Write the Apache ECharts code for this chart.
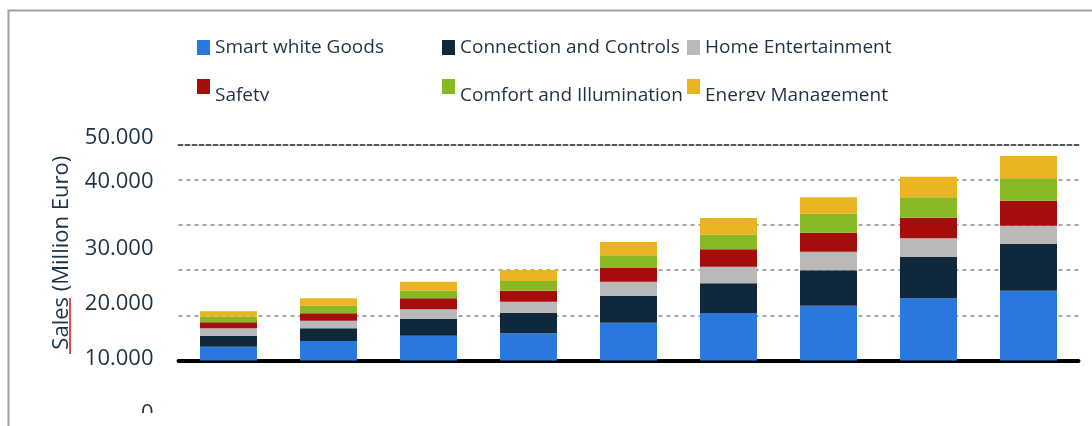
<!DOCTYPE html>
<html>
<head>
<meta charset="utf-8">
<script src="https://cdn.jsdelivr.net/npm/echarts@6/dist/echarts.min.js"></script>
<style>
  html, body { margin: 0; padding: 0; background: #fff; }
  #main { width: 1092px; height: 426px; }
</style>
</head>
<body>
<div id="main"></div>
<script>
// bar groups (no labels shown on the x axis in the source)
var categories = ['1', '2', '3', '4', '5', '6', '7', '8', '9']
var seriesNames = ['Smart white Goods', 'Connection and Controls', 'Home Entertainment',
  'Safety', 'Comfort and Illumination', 'Energy Management']
var smartWhiteGoods = [3060, 4320, 5500, 6030, 8380, 10530, 12140, 13780, 15470]
var connectionControls = [2440, 2810, 3700, 4570, 5920, 6580, 7840, 9150, 10350]
var homeEntertainment = [1640, 1680, 2150, 2440, 3170, 3680, 4120, 4140, 4060]
var safety = [1330, 1640, 2440, 2440, 3040, 3860, 4210, 4570, 5540]
var comfortIllumination = [1240, 1680, 1680, 2150, 2810, 3240, 4210, 4520, 4960]
var energyManagement = [1200, 1640, 1990, 2440, 2950, 3700, 3630, 4570, 4940]
var yTickLabels = ['0', '10.000', '20.000', '30.000', '40.000', '50.000']

var colors = ['#2a77dd', '#10283c', '#b9b9b9', '#a50c0c', '#88b824', '#eab422']
var seriesData = [smartWhiteGoods, connectionControls, homeEntertainment,
  safety, comfortIllumination, energyManagement]

var font = 'Open Sans'
var textColor = '#1e3246'

var chart = echarts.init(document.getElementById('main'))

chart.setOption({
  animation: false,
  grid: [
    { left: 178.5, right: 13.5, top: 145, bottom: 65.5 },
    { left: 178.5, right: 13.5, top: 138, bottom: 12 }
  ],
  // one legend per item so the columns line up like the source
  legend: seriesNames.map(function(name, i) {
    return {
      data: [name],
      left: 197 + (i % 3) * 245,
      top: i < 3 ? 38 : 79,
      padding: 0,
      icon: 'rect',
      itemWidth: 13,
      itemHeight: 15,
      formatter: i < 3 ? '{name}' : '{low|{name}}',
      textStyle: {
        fontFamily: font,
        fontSize: 19,
        color: textColor,
        rich: {
          low: { fontFamily: font, fontSize: 19, color: textColor, padding: [18, 0, 0, 0] }
        }
      }
    }
  }),
  xAxis: [
    {
      type: 'category',
      gridIndex: 0,
      data: categories,
      axisLine: { lineStyle: { color: '#000', width: 4 } },
      axisTick: { show: false },
      axisLabel: { show: false }
    },
    {
      type: 'category',
      gridIndex: 0,
      position: 'top',
      data: categories,
      axisLine: { lineStyle: { color: '#555', width: 2, type: [4, 3] } },
      axisTick: { show: false },
      axisLabel: { show: false }
    },
    { type: 'category', gridIndex: 1, data: categories, show: false }
  ],
  yAxis: [
    {
      type: 'value',
      gridIndex: 0,
      min: 0,
      max: 47750,
      interval: 10000,
      axisLine: { show: false },
      axisTick: { show: false },
      axisLabel: { show: false },
      splitLine: {
        show: true,
        showMinLine: false,
        showMaxLine: false,
        lineStyle: { color: '#a6a6a6', width: 2, type: [4, 4] }
      },
      name: 'Sales (Million Euro)',
      nameLocation: 'middle',
      nameGap: 106,
      nameTextStyle: { fontFamily: font, fontSize: 22, color: textColor }
    },
    {
      // label-only axis, the source labels sit off the gridlines
      type: 'value',
      gridIndex: 1,
      min: 0,
      max: 50000,
      interval: 10000,
      axisLine: { show: false },
      axisTick: { show: false },
      splitLine: { show: false },
      axisLabel: {
        margin: 25,
        formatter: function(v) {
          var s = yTickLabels[Math.round(v / 10000)]
          return v === 40000 ? '{up|' + s + '}' : '{n|' + s + '}'
        },
        rich: {
          n: { fontFamily: font, fontSize: 22, color: textColor },
          up: { fontFamily: font, fontSize: 22, color: textColor, padding: [0, 0, 22, 0] }
        }
      }
    }
  ],
  series: seriesNames.map(function(name, i) {
    return {
      name: name,
      type: 'bar',
      stack: 'total',
      xAxisIndex: 0,
      yAxisIndex: 0,
      barWidth: 57,
      data: seriesData[i],
      itemStyle: { color: colors[i] }
    }
  }),
  graphic: [
    {
      type: 'rect',
      z: 100,
      shape: { x: 8.5, y: 10.5, width: 1200, height: 600 },
      style: { fill: 'none', stroke: '#a0a0a0', lineWidth: 2 }
    },
    {
      type: 'line',
      z: 100,
      shape: { x1: 70, y1: 298, x2: 70, y2: 354 },
      style: { stroke: '#e0101a', lineWidth: 1.5 }
    },
    {
      type: 'rect',
      z: 100,
      shape: { x: 190, y: 101, width: 740, height: 14 },
      style: { fill: '#fff' }
    },
    {
      type: 'rect',
      z: 100,
      shape: { x: 100, y: 413, width: 70, height: 13 },
      style: { fill: '#fff' }
    }
  ]
})
</script>
</body>
</html>
